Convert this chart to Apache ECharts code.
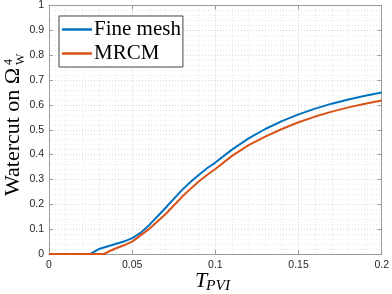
<!DOCTYPE html>
<html>
<head>
<meta charset="utf-8">
<script src="https://cdn.jsdelivr.net/npm/echarts@6/dist/echarts.min.js"></script>
<style>html,body{margin:0;padding:0;background:#fff}#c{width:392px;height:294px}</style>
</head>
<body>
<div id="c"></div>
<script>
// Data
const fineX = [0, 0.02, 0.0246, 0.03, 0.035, 0.04, 0.045, 0.05, 0.055, 0.06, 0.065, 0.07, 0.075, 0.08, 0.085, 0.09, 0.095, 0.1, 0.11, 0.12, 0.13, 0.14, 0.15, 0.16, 0.17, 0.18, 0.19, 0.2];
const fineY = [0, 0, 0, 0.02, 0.03, 0.04, 0.05, 0.064, 0.085, 0.115, 0.15, 0.185, 0.222, 0.258, 0.29, 0.318, 0.345, 0.368, 0.42, 0.465, 0.503, 0.535, 0.562, 0.585, 0.605, 0.622, 0.637, 0.65];
const mrcmX = [0, 0.02, 0.033, 0.036, 0.04, 0.045, 0.05, 0.055, 0.06, 0.065, 0.07, 0.075, 0.08, 0.085, 0.09, 0.095, 0.1, 0.11, 0.12, 0.13, 0.14, 0.15, 0.16, 0.17, 0.18, 0.19, 0.2];
const mrcmY = [0, 0, 0, 0.01, 0.022, 0.035, 0.05, 0.075, 0.1, 0.13, 0.16, 0.195, 0.23, 0.262, 0.292, 0.318, 0.342, 0.395, 0.438, 0.472, 0.503, 0.53, 0.553, 0.573, 0.59, 0.605, 0.618];
const seriesNames = ['Fine mesh', 'MRCM'];
const xTicks = [0, 0.05, 0.1, 0.15, 0.2];
const yTicks = [0, 0.1, 0.2, 0.3, 0.4, 0.5, 0.6, 0.7, 0.8, 0.9, 1];

const pairs = (xs, ys) => xs.map((x, i) => [x, ys[i]]);
const chart = echarts.init(document.getElementById('c'), null, {renderer: 'canvas'});
const axisCol = '#9a9a9a';
const labFont = 'Liberation Sans';
const serif = 'Liberation Serif';

const baseX = {
  type: 'value', min: xTicks[0], max: xTicks[xTicks.length - 1], interval: 0.05,
  axisLine: {show: true, onZero: false, lineStyle: {color: axisCol, width: 1}},
  axisTick: {show: true, inside: true, length: 4, lineStyle: {color: axisCol}},
  minorTick: {show: false},
};
const baseY = {
  type: 'value', min: yTicks[0], max: yTicks[yTicks.length - 1], interval: 0.1,
  axisLine: {show: true, onZero: false, lineStyle: {color: axisCol, width: 1}},
  axisTick: {show: true, inside: true, length: 4, lineStyle: {color: axisCol}},
  minorTick: {show: false},
};

chart.setOption({
  animation: false,
  backgroundColor: '#fff',
  grid: {left: 49, right: 10, top: 5, bottom: 40, containLabel: false},
  xAxis: [
    Object.assign({}, baseX, {
      position: 'bottom',
      axisLabel: {show: true, color: '#262626', fontFamily: labFont, fontSize: 10.5, margin: 6,
        formatter: v => String(+v.toFixed(3))},
      splitLine: {show: true, lineStyle: {color: '#d4d4d4', type: [1, 2], width: 1}},
      minorSplitLine: {show: true, lineStyle: {color: '#e6e6e6', type: [1, 2], width: 1}},
      minorTick: {show: false, splitNumber: 5},
    }),
    Object.assign({}, baseX, {
      position: 'top', axisLabel: {show: false}, splitLine: {show: false}
    })
  ],
  yAxis: [
    Object.assign({}, baseY, {
      position: 'left',
      axisLabel: {show: true, color: '#262626', fontFamily: labFont, fontSize: 10.5, margin: 5,
        formatter: v => String(+v.toFixed(2))},
      splitLine: {show: true, lineStyle: {color: '#d4d4d4', type: [1, 2], width: 1}},
      minorSplitLine: {show: true, lineStyle: {color: '#e6e6e6', type: [1, 2], width: 1}},
      minorTick: {show: false, splitNumber: 5},
    }),
    Object.assign({}, baseY, {
      position: 'right', axisLabel: {show: false}, splitLine: {show: false}
    })
  ],
  legend: {
    orient: 'vertical', left: 59, top: 16,
    data: seriesNames,
    icon: 'rect', itemWidth: 30, itemHeight: 2.5, itemGap: 3,
    padding: [3, 2, 3, 3],
    backgroundColor: '#fff', borderColor: '#444', borderWidth: 1, borderRadius: 0,
    textStyle: {fontFamily: serif, fontSize: 21, color: '#000', padding: [0, 0, 0, -3], lineHeight: 21},
  },
  series: [
    {name: seriesNames[0], type: 'line', data: pairs(fineX, fineY), showSymbol: false, symbol: 'none',
      lineStyle: {color: '#0072BD', width: 2}, itemStyle: {color: '#0072BD'}, z: 3},
    {name: seriesNames[1], type: 'line', data: pairs(mrcmX, mrcmY), showSymbol: false, symbol: 'none',
      lineStyle: {color: '#D95319', width: 2}, itemStyle: {color: '#D95319'}, z: 4},
  ],
  graphic: [
    {
      type: 'group', x: 24, y: 128, rotation: Math.PI / 2,
      children: [
        {type: 'text', x: -68, y: 0, style: {text: 'Watercut on Ω', font: '22px "Liberation Serif"', fill: '#000', align: 'left', verticalAlign: 'bottom'}},
        {type: 'text', x: 63, y: -9, style: {text: '4', font: '12px "Liberation Serif"', fill: '#000', align: 'left', verticalAlign: 'bottom'}},
        {type: 'text', x: 63, y: 3, style: {text: 'W', font: '12px "Liberation Serif"', fill: '#000', align: 'left', verticalAlign: 'bottom'}},
      ]
    },
    {
      type: 'group', x: 195, y: 292,
      children: [
        {type: 'text', x: 0, y: 0, style: {text: 'T', font: 'italic 22px "Liberation Serif"', fill: '#000', align: 'left', verticalAlign: 'bottom'}},
        {type: 'text', x: 11, y: 1.5, style: {text: 'PVI', font: 'italic 15.5px "Liberation Serif"', fill: '#000', align: 'left', verticalAlign: 'bottom'}},
      ]
    }
  ]
});
</script>
</body>
</html>
